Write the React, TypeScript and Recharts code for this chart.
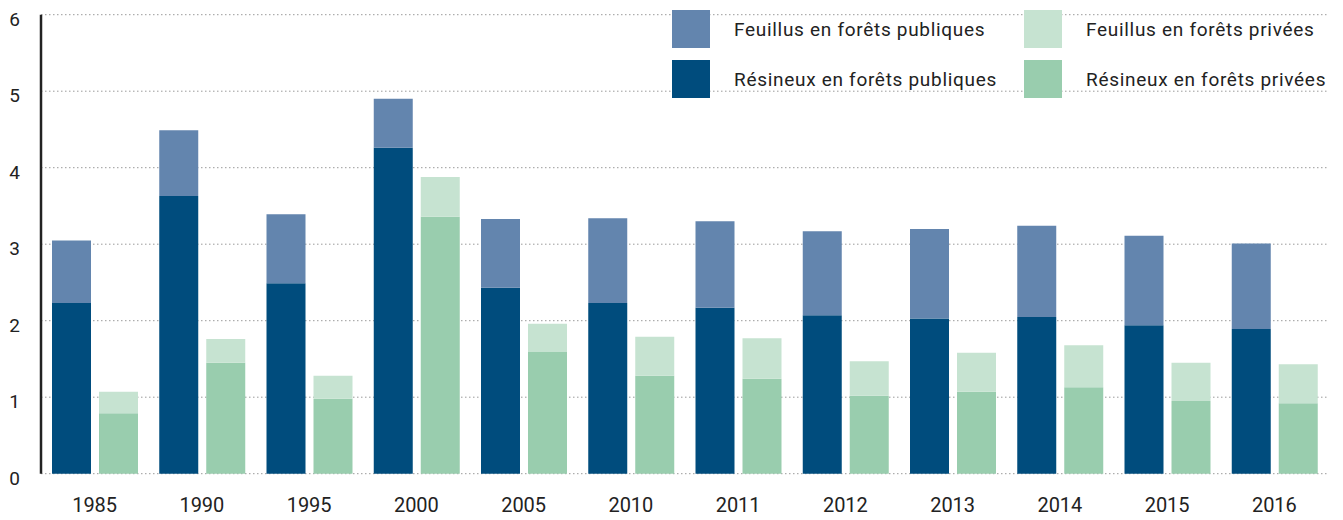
import React from 'react';
import { BarChart, Bar, XAxis, YAxis, CartesianGrid } from 'recharts';

const years = ['1985', '1990', '1995', '2000', '2005', '2010', '2011', '2012', '2013', '2014', '2015', '2016'];
const resineuxPubliques = [2.23, 3.63, 2.49, 4.26, 2.43, 2.23, 2.17, 2.07, 2.03, 2.05, 1.94, 1.89];
const feuillusPubliques = [0.82, 0.86, 0.9, 0.64, 0.9, 1.11, 1.13, 1.1, 1.17, 1.19, 1.17, 1.12];
const resineuxPrivees = [0.79, 1.45, 0.98, 3.36, 1.59, 1.28, 1.24, 1.02, 1.07, 1.13, 0.95, 0.92];
const feuillusPrivees = [0.28, 0.31, 0.3, 0.52, 0.37, 0.51, 0.53, 0.45, 0.51, 0.55, 0.5, 0.51];
const yTicks = [0, 1, 2, 3, 4, 5, 6];

const COLORS = {
  resPub: '#004c7d',
  feuPub: '#6385ae',
  resPriv: '#99cdae',
  feuPriv: '#c6e3d1',
};

const legendItems = [
  { label: 'Feuillus en forêts publiques', color: COLORS.feuPub, left: 672, top: 10 },
  { label: 'Résineux en forêts publiques', color: COLORS.resPub, left: 672, top: 60 },
  { label: 'Feuillus en forêts privées', color: COLORS.feuPriv, left: 1024, top: 10 },
  { label: 'Résineux en forêts privées', color: COLORS.resPriv, left: 1024, top: 60 },
];

const data = years.map((year, i) => ({
  year,
  resPub: resineuxPubliques[i],
  feuPub: feuillusPubliques[i],
  resPriv: resineuxPrivees[i],
  feuPriv: feuillusPrivees[i],
}));

const FONT = 'Roboto, sans-serif';

const YTick = (props: any) => {
  const { x, y, payload } = props;
  return (
    <text x={x} y={y} dy={11} textAnchor="end" fill="#222" fontSize={19} fontFamily={FONT}>
      {payload.value}
    </text>
  );
};

export default function App() {
  return (
    <div style={{ position: 'absolute', left: 0, top: 0, width: 1343, height: 520, background: '#fff' }}>
      <BarChart
        width={1343}
        height={520}
        data={data}
        margin={{ top: 14.7, right: 15, bottom: 0, left: 0 }}
        barSize={39}
        barGap={8}
      >
        <CartesianGrid horizontal vertical={false} stroke="#9a9a9a" strokeDasharray="1.5 2.5" />
        <XAxis
          dataKey="year"
          height={46.3}
          axisLine={false}
          tickLine={false}
          tickSize={0}
          tickMargin={24}
          tick={{ fill: '#222', fontSize: 20, fontFamily: FONT }}
        />
        <YAxis
          width={41}
          domain={[0, 6]}
          ticks={yTicks}
          axisLine={{ stroke: '#222', strokeWidth: 2.5 }}
          tickLine={false}
          tickSize={0}
          tickMargin={21}
          tick={<YTick />}
        />
        <Bar dataKey="resPub" stackId="pub" fill={COLORS.resPub} isAnimationActive={false} />
        <Bar dataKey="feuPub" stackId="pub" fill={COLORS.feuPub} isAnimationActive={false} />
        <Bar dataKey="resPriv" stackId="priv" fill={COLORS.resPriv} isAnimationActive={false} />
        <Bar dataKey="feuPriv" stackId="priv" fill={COLORS.feuPriv} isAnimationActive={false} />
      </BarChart>
      {legendItems.map((item) => (
        <div key={item.label} style={{ position: 'absolute', left: item.left, top: item.top, height: 38, display: 'flex', alignItems: 'center' }}>
          <div style={{ width: 38, height: 38, background: item.color }} />
          <span style={{ marginLeft: 24, fontFamily: FONT, fontSize: 19, letterSpacing: 0.7, color: '#222', whiteSpace: 'nowrap' }}>{item.label}</span>
        </div>
      ))}
    </div>
  );
}
